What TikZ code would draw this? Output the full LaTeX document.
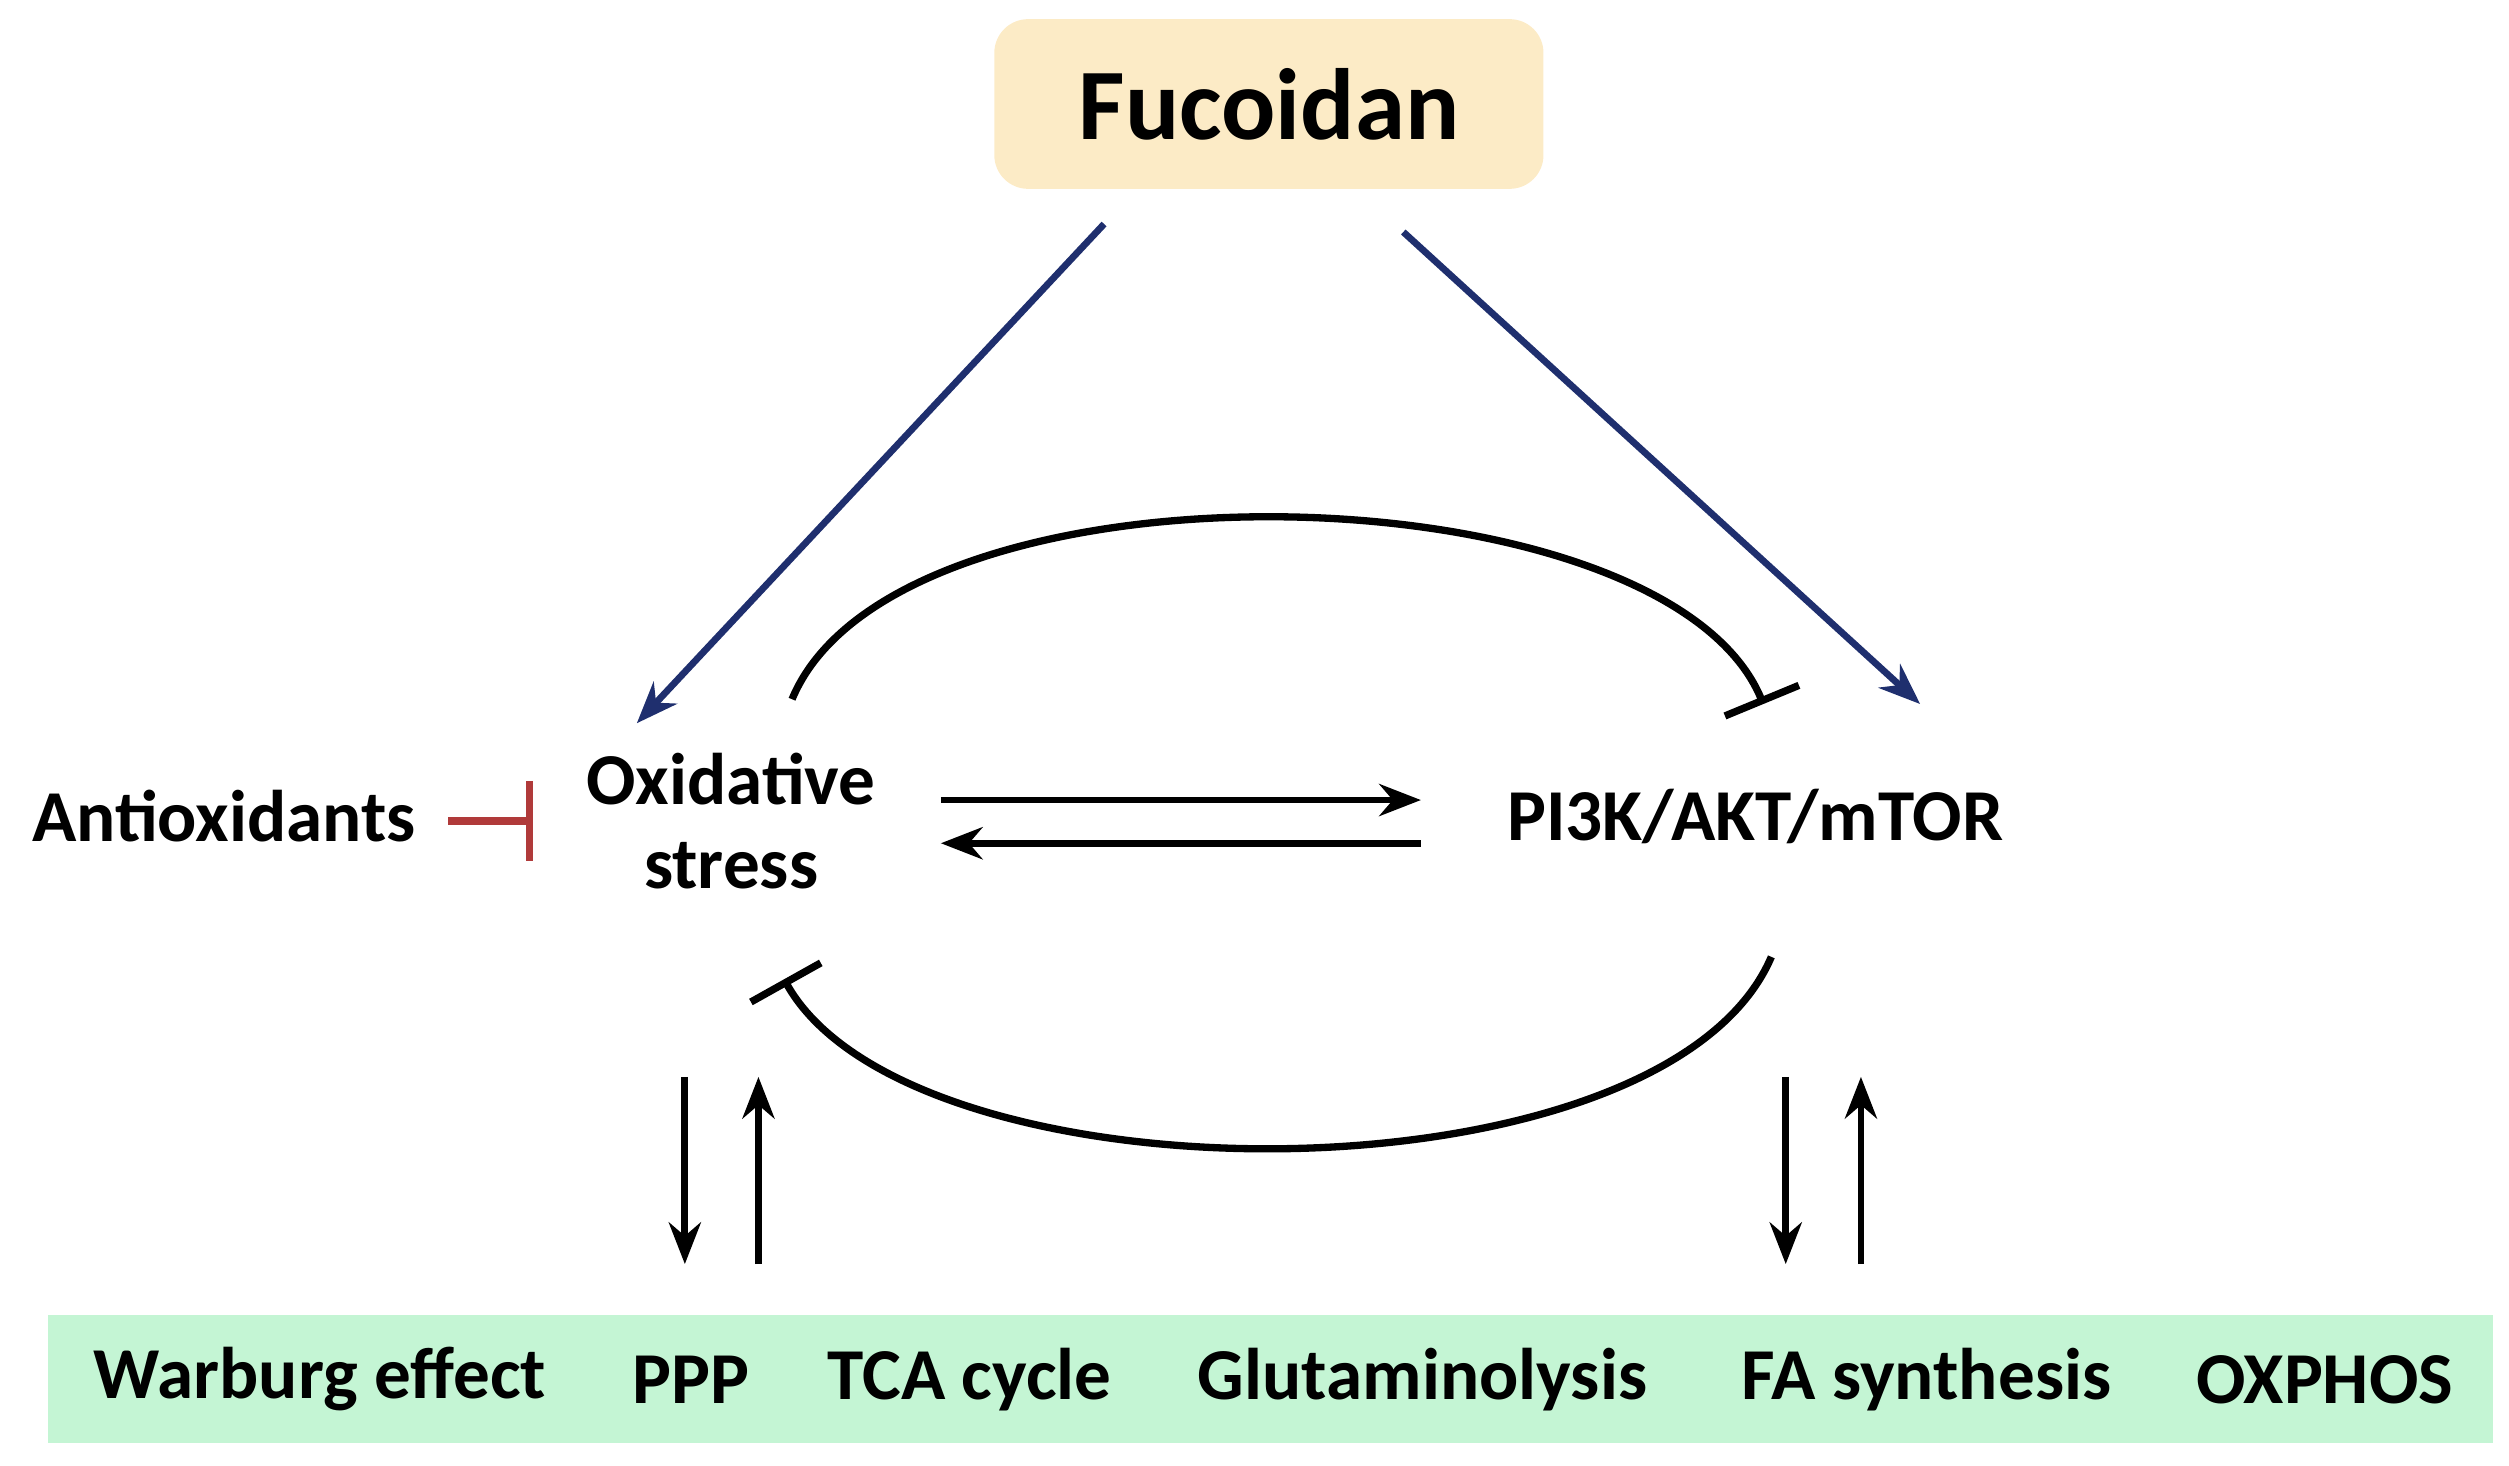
\documentclass[tikz,border=0pt]{standalone}
\usepackage{fontspec}
\setmainfont{Carlito}
\usetikzlibrary{arrows.meta}
\usetikzlibrary{positioning}
\definecolor{boxorange}{HTML}{FCEBC6}
\definecolor{bandgreen}{HTML}{C4F5D4}
\definecolor{navy}{HTML}{1F2F6E}
\definecolor{inhred}{HTML}{B03A3A}
\tikzset{>=latex}

\begin{document}
\begin{tikzpicture}[x=0.01cm, y=-0.01cm,
        label/.style={font=\fontsize{13}{15}\selectfont\bfseries, align=center, inner sep=1pt},
        activate/.style={line width=1.2pt, navy, -{Stealth[length=2.6mm, width=2mm]}},
        flow/.style={line width=1.2pt, -{Stealth[length=2.6mm, width=2mm]}},
        inhibit/.style={line width=1.3pt, -{Bar[width=5mm]}}
    ]
    \useasboundingbox (0,0) rectangle (1568,916);

    %=== Top and bottom boxes ===%
    \node[fill=boxorange, rounded corners=6pt, minimum width=3.43cm, minimum height=1.06cm,
          font=\fontsize{18}{21}\selectfont\bfseries] (fuc) at (793,65) {Fucoidan};
    \fill[bandgreen] (30,822) rectangle (1558,902);

    %=== Main nodes ===%
    \node[label] (ox) at (457,513) {Oxidative\\stress};
    \node[label] (pi) at (1097,510) {PI3K/AKT/mTOR};
    \node[label] (anti) at (140,510) {Antioxidants};

    %=== Pathways ===%
    \node[label] (war) at (200,862) {Warburg effect};
    \node[label] (ppp) at (432,862) {PPP};
    \node[label] (tca) at (606,862) {TCA cycle};
    \node[label] (glu) at (889,862) {Glutaminolysis};
    \node[label] (fas) at (1204,862) {FA synthesis};
    \node[label] (oxp) at (1453,862) {OXPHOS};

    % Fucoidan to both targets
    \coordinate (f1) at (690,140);
    \coordinate (f2) at (877,145);
    \coordinate (o1) at (398,452);
    \coordinate (p1) at (1200,440);
    \draw[activate] (f1) -- (o1);
    \draw[activate] (f2) -- (p1);

    % Antioxidants
    \coordinate (a1) at (280,513);
    \coordinate (a2) at (333,513);
    \draw[line width=1.3pt, inhred, -{Bar[width=5mm]}] (a1) -- (a2);

    % mutual activation
    \draw[flow] (588,500) -- (888,500);
    \draw[flow] (888,527) -- (588,527);

    % mutual inhibition loops
    \draw[inhibit] (495,437) .. controls (560,280) and (1040,290) .. (1102,440);
    \draw[inhibit] (1107,598) .. controls (1040,755) and (570,755) .. (490,612);

    % to and from metabolism
    \draw[flow] (428,673) -- (428,790);
    \draw[flow] (474,790) -- (474,673);
    \draw[flow] (1116,673) -- (1116,790);
    \draw[flow] (1163,790) -- (1163,673);
\end{tikzpicture}
\end{document}
